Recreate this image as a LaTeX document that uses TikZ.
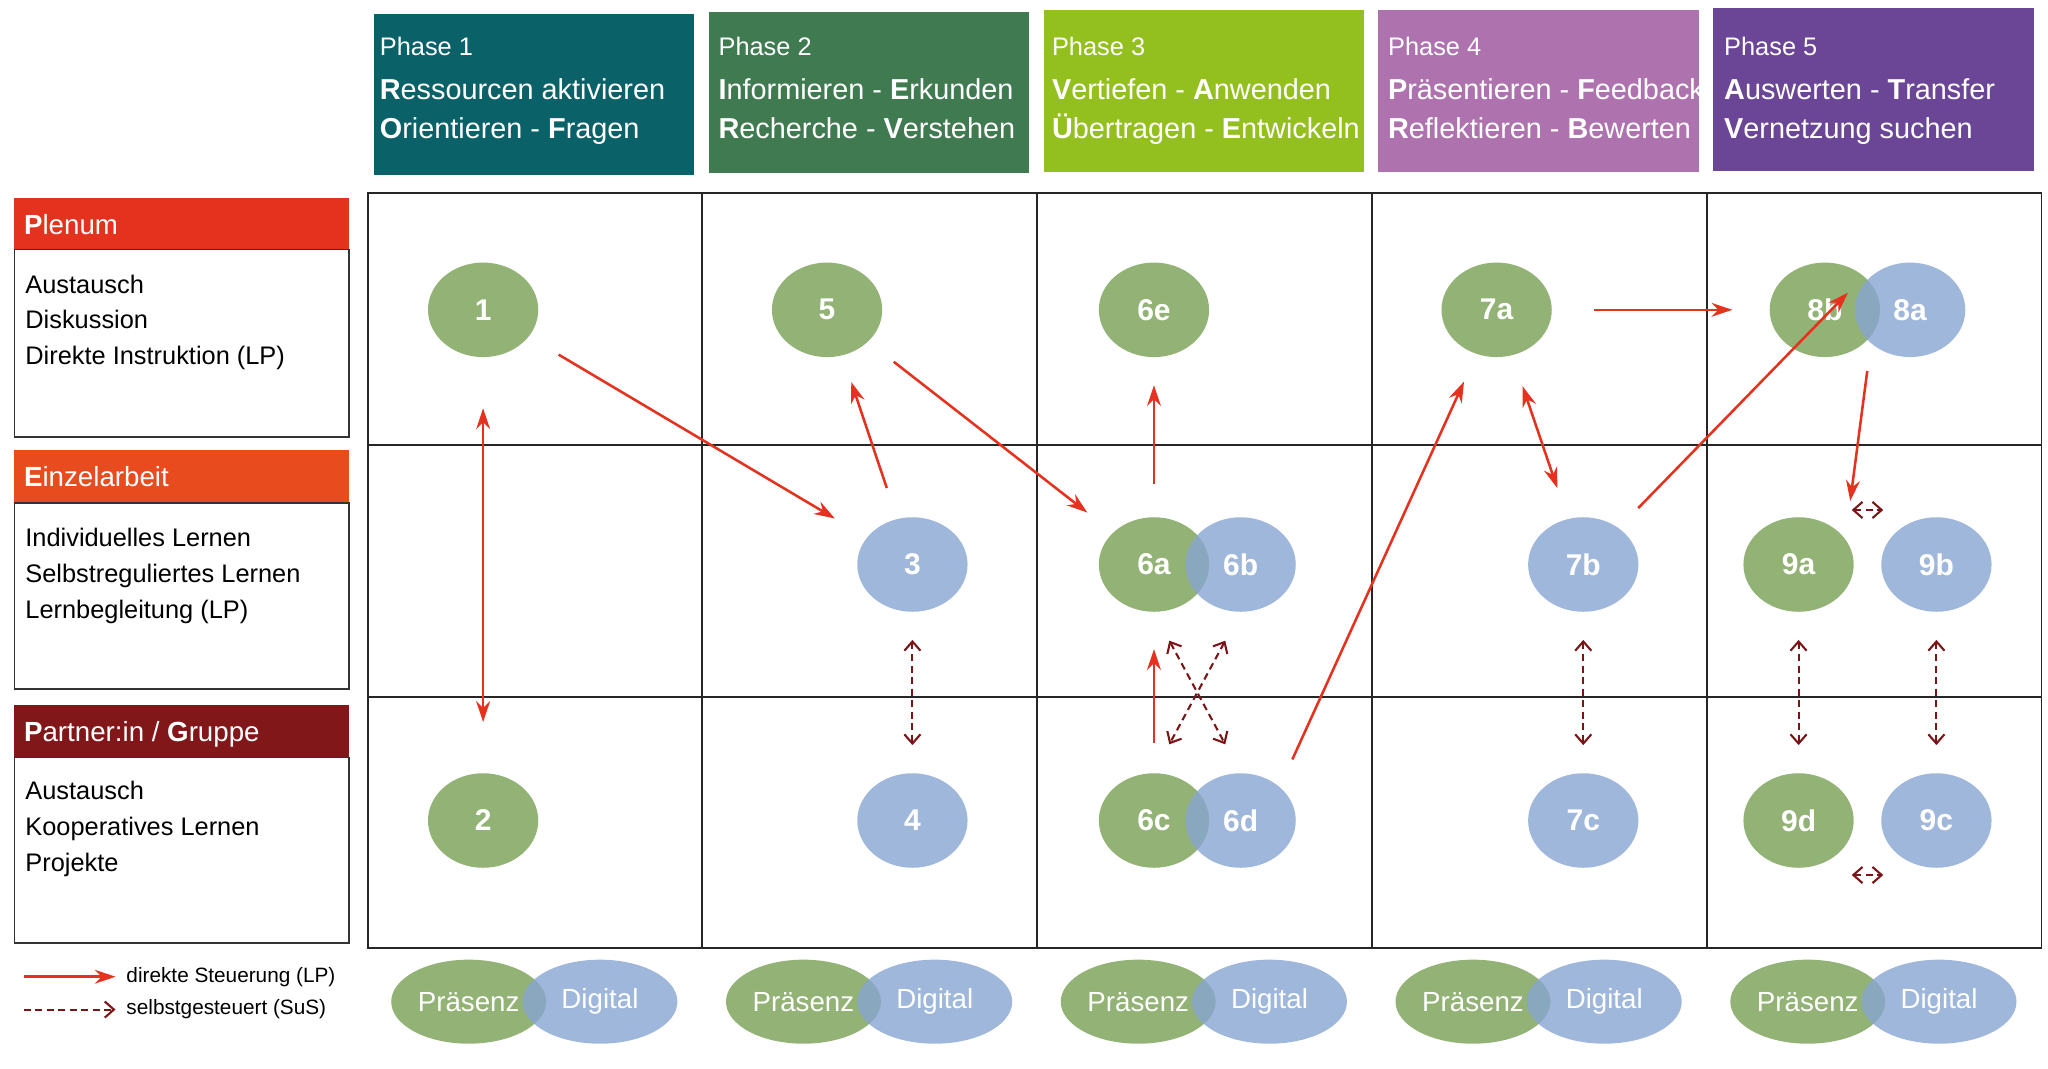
\documentclass[tikz,border=0pt]{standalone}
\usepackage{fontspec}
\setmainfont{Liberation Sans}
\usetikzlibrary{arrows.meta, positioning, shapes.geometric}
\definecolor{ph1}{HTML}{0A6168}
\definecolor{ph2}{HTML}{3F7A50}
\definecolor{ph3}{HTML}{93C01F}
\definecolor{ph4}{HTML}{AE73AF}
\definecolor{ph5}{HTML}{6B4596}
\definecolor{plred}{HTML}{E5321E}
\definecolor{eiorange}{HTML}{E84B1E}
\definecolor{pgdark}{HTML}{82171A}
\definecolor{gr}{HTML}{93B276}
\definecolor{bl}{HTML}{87A5D1}
\definecolor{self}{HTML}{7A1416}
\tikzset{
  phase/.style={anchor=north west, inner sep=0pt},
  phtext/.style={anchor=north west, align=left, text=white, font=\fontsize{12.5}{17}\selectfont, inner sep=0pt},
  lanehead/.style={anchor=north west, text=white, font=\fontsize{12}{14}\selectfont, inner sep=4pt},
  lanetext/.style={anchor=north west, align=left, font=\fontsize{11}{15.5}\selectfont, inner sep=0pt},
  gbub/.style={ellipse, fill=gr, minimum width=16.8mm, minimum height=14.4mm, text=white, font=\bfseries\fontsize{13}{15}\selectfont},
  bbub/.style={ellipse, fill=bl, fill opacity=0.8, text opacity=1, minimum width=16.8mm, minimum height=14.4mm, text=white, font=\bfseries\fontsize{13}{15}\selectfont},
  gmode/.style={ellipse, fill=gr, minimum width=23.6mm, minimum height=12.8mm, text=white, font=\fontsize{12}{14}\selectfont},
  bmode/.style={ellipse, fill=bl, fill opacity=0.8, text opacity=1, minimum width=23.6mm, minimum height=12.8mm, text=white, font=\fontsize{12}{14}\selectfont},
  direct/.style={plred, line width=1.1pt, -{Stealth[length=9pt, width=6pt]}},
  selfctl/.style={self, line width=0.9pt, densely dashed, {Straight Barb[length=4pt, width=7pt]}-{Straight Barb[length=4pt, width=7pt]}}
}
\begin{document}
\begin{tikzpicture}[x=0.2mm, y=-0.2mm]
\useasboundingbox (0,0) rectangle (1560,814);

% phase headers
\fill[ph1] (285,11) rectangle (529,133);
\fill[ph2] (540,9) rectangle (784,132);
\fill[ph3] (795,8) rectangle (1039,131);
\fill[ph4] (1050,8) rectangle (1294,131);
\fill[ph5] (1305,6) rectangle (1549,130);
\node[phtext] (h1) at (289,28) {{\fontsize{11}{13}\selectfont Phase 1}\\[2pt]\textbf{R}essourcen aktivieren\\\textbf{O}rientieren - \textbf{F}ragen};
\node[phtext] (h2) at (547,28) {{\fontsize{11}{13}\selectfont Phase 2}\\[2pt]\textbf{I}nformieren - \textbf{E}rkunden\\\textbf{R}echerche - \textbf{V}erstehen};
\node[phtext] (h3) at (801,28) {{\fontsize{11}{13}\selectfont Phase 3}\\[2pt]\textbf{V}ertiefen - \textbf{A}nwenden\\\textbf{Ü}bertragen - \textbf{E}ntwickeln};
\node[phtext] (h4) at (1057,28) {{\fontsize{11}{13}\selectfont Phase 4}\\[2pt]\textbf{P}räsentieren - \textbf{F}eedback\\\textbf{R}eflektieren - \textbf{B}ewerten};
\node[phtext] (h5) at (1313,28) {{\fontsize{11}{13}\selectfont Phase 5}\\[2pt]\textbf{A}uswerten - \textbf{T}ransfer\\\textbf{V}ernetzung suchen};

% lanes
\fill[plred] (11,151) rectangle (266,190);
\draw[thick, black!80] (11,190) rectangle (266,333);
\node[lanehead] (l1) at (11,156) {\textbf{P}lenum};
\node[lanetext] (t1) at (19,209) {Austausch\\Diskussion\\Direkte Instruktion (LP)};
\fill[eiorange] (11,343) rectangle (266,383);
\draw[thick, black!80] (11,383) rectangle (266,525);
\node[lanehead] (l2) at (11,348) {\textbf{E}inzelarbeit};
\node[lanetext] (t2) at (19,402) {Individuelles Lernen\\Selbstreguliertes Lernen\\Lernbegleitung (LP)};
\fill[pgdark] (11,537) rectangle (266,577);
\draw[thick, black!80] (11,577) rectangle (266,718);
\node[lanehead] (l3) at (11,542) {\textbf{P}artner:in / \textbf{G}ruppe};
\node[lanetext] (t3) at (19,595) {Austausch\\Kooperatives Lernen\\Projekte};

% grid
\draw[thick, black!85] (280,147) rectangle (1555,722);
\foreach \x in {535,790,1045,1300} \draw[thick, black!85] (\x,147) -- (\x,722);
\foreach \y in {339,531} \draw[thick, black!85] (280,\y) -- (1555,\y);

% activities
\node[gbub] (n1) at (368,236) {1};
\node[gbub] (n5) at (630,236) {5};
\node[gbub] (n6e) at (879,236) {6e};
\node[gbub] (n7a) at (1140,236) {7a};
\node[gbub] (n8b) at (1390,236) {8b};
\node[bbub] (n8a) at (1455,236) {8a};
\node[bbub] (n3) at (695,430) {3};
\node[gbub] (n6a) at (879,430) {6a};
\node[bbub] (n6b) at (945,430) {6b};
\node[bbub] (n7b) at (1206,430) {7b};
\node[gbub] (n9a) at (1370,430) {9a};
\node[bbub] (n9b) at (1475,430) {9b};
\node[gbub] (n2) at (368,625) {2};
\node[bbub] (n4) at (695,625) {4};
\node[gbub] (n6c) at (879,625) {6c};
\node[bbub] (n6d) at (945,625) {6d};
\node[bbub] (n7c) at (1206,625) {7c};
\node[gbub] (n9d) at (1370,625) {9d};
\node[bbub] (n9c) at (1475,625) {9c};

% modes
\foreach \c/\i in {280/1,535/2,790/3,1045/4,1300/5} {
  \node[gmode] (p\i) at (\c+77,763) {};
  \node[bmode] (d\i) at (\c+177,763) {Digital};
  \node (pt\i) at (p\i) {\color{white}\fontsize{12}{14}\selectfont Präsenz};
}

% direct arrows
\draw[direct, {Stealth[length=9pt, width=6pt]}-{Stealth[length=9pt, width=6pt]}, shorten <=22pt, shorten >=22pt] (n1) -- (n2);
\draw[direct, shorten <=15pt, shorten >=16pt] (n1) -- (n3);
\draw[direct, shorten <=14pt, shorten >=12pt] (n3) -- (n5);
\draw[direct, shorten <=14pt, shorten >=14pt] (n5) -- (n6a);
\draw[direct, shorten <=14pt, shorten >=12pt] (n6a) -- (n6e);
\draw[direct, shorten <=13pt, shorten >=16pt] (n6c) -- (n6a);
\draw[direct, shorten <=13pt, shorten >=13pt] (n6d.north east) -- (n7a);
\draw[direct, shorten <=18pt, shorten >=16pt] (n7a) -- (n8b);
\draw[direct, {Stealth[length=9pt, width=6pt]}-{Stealth[length=9pt, width=6pt]}, shorten <=14pt, shorten >=14pt] (n7a) -- (n7b);
\draw[direct, shorten <=12pt, shorten >=10pt] (n7b) -- (n8b.north east);
\draw[direct, shorten <=12pt, shorten >=13pt] (n8a.south west) -- ([xshift=-22pt]n9b.north west);

% self-directed arrows
\draw[selfctl, shorten <=12pt, shorten >=12pt] (n3) -- (n4);
\draw[selfctl, shorten <=14pt, shorten >=14pt] (n6a.south) -- (n6d.north);
\draw[selfctl, shorten <=14pt, shorten >=14pt] (n6b.south) -- (n6c.north);
\draw[selfctl, shorten <=12pt, shorten >=12pt] (n7b) -- (n7c);
\draw[selfctl, shorten <=12pt, shorten >=12pt] (n9a) -- (n9d);
\draw[selfctl, shorten <=12pt, shorten >=12pt] (n9b) -- (n9c);
\draw[selfctl, shorten <=6pt, shorten >=6pt] ([yshift=9pt]n9a.north east) -- ([yshift=9pt]n9b.north west);
\draw[selfctl, shorten <=6pt, shorten >=6pt] ([yshift=-9pt]n9d.south east) -- ([yshift=-9pt]n9c.south west);

% legend
\coordinate (la) at (18,744);
\coordinate (lb) at (88,744);
\coordinate (lc) at (18,769);
\coordinate (ld) at (88,769);
\draw[direct] (la) -- (lb);
\draw[self, line width=0.9pt, densely dashed, -{Straight Barb[length=4pt, width=7pt]}] (lc) -- (ld);
\node[anchor=west, font=\fontsize{9}{11}\selectfont, inner sep=0pt] (lt1) at (96,744) {direkte Steuerung (LP)};
\node[anchor=west, font=\fontsize{9}{11}\selectfont, inner sep=0pt] (lt2) at (96,769) {selbstgesteuert (SuS)};
\end{tikzpicture}
\end{document}
